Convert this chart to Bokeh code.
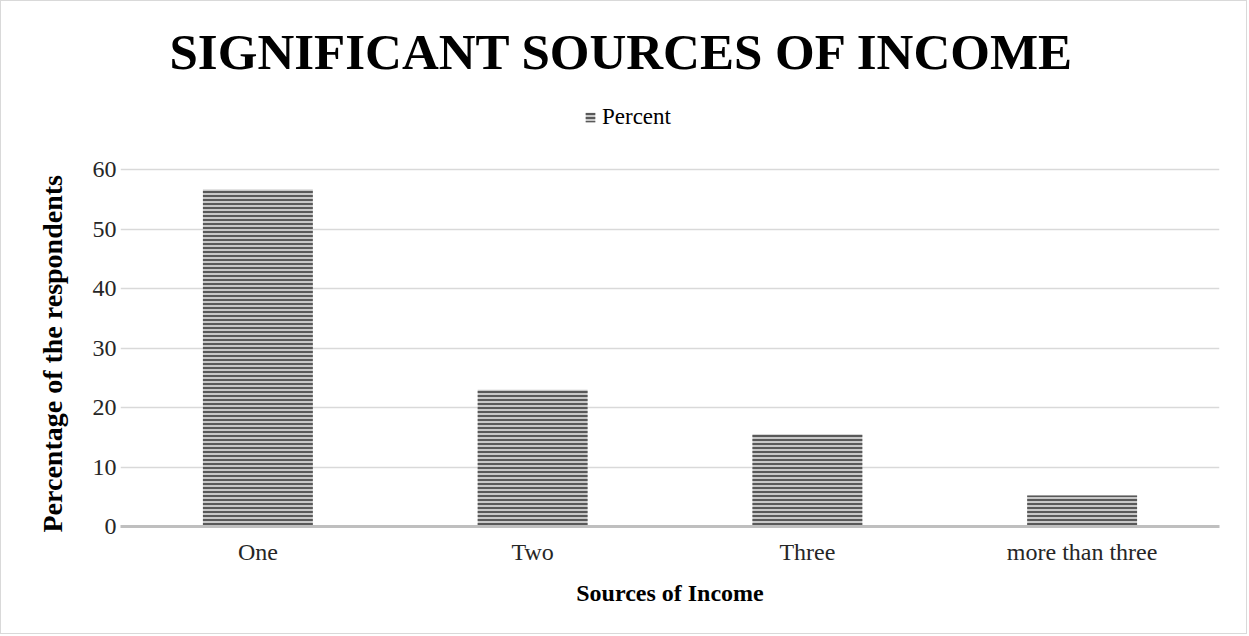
from bokeh.plotting import figure
from bokeh.models import ColumnDataSource, Legend, LegendItem, Title, FixedTicker
from bokeh.embed import file_html
from bokeh.resources import INLINE

categories = ["One", "Two", "Three", "more than three"]
percent = [56.7, 23.0, 15.5, 5.2]
y_ticks = [0, 10, 20, 30, 40, 50, 60]

FONT = "Liberation Serif"

src = ColumnDataSource(dict(cat=categories, val=percent))

p = figure(x_range=categories, y_range=(0, 71.83), width=1247, height=634,
           output_backend="svg", toolbar_location=None,
           min_border_left=119, min_border_right=29, min_border_top=94, min_border_bottom=109)
p.styles = {"border": "1px solid #d9d9d9"}

r = p.vbar(x="cat", top="val", width=0.4, source=src,
           fill_color="#c8c8c8", line_color=None,
           hatch_pattern="horizontal_line", hatch_color="#595959",
           hatch_scale=4, hatch_weight=2)

legend = Legend(items=[LegendItem(label="Percent", renderers=[r])],
                orientation="horizontal", location=(464, 396),
                label_text_font=FONT, label_text_font_size="23px", label_text_color="#000000",
                glyph_width=12, glyph_height=12, label_standoff=6,
                border_line_color=None, background_fill_alpha=0,
                padding=0, margin=0)
p.add_layout(legend, "center")

p.title = Title(text="SIGNIFICANT SOURCES OF INCOME", align="left", offset=49,
                text_font=FONT, text_font_size="51px", text_font_style="bold",
                text_color="#000000", standoff=40)

p.outline_line_color = None
p.xgrid.grid_line_color = None
p.ygrid.grid_line_color = "#d9d9d9"
p.ygrid.grid_line_width = 1.5
p.ygrid.ticker = FixedTicker(ticks=y_ticks)
p.yaxis.ticker = FixedTicker(ticks=y_ticks)
p.yaxis.axis_line_color = None
p.yaxis.major_tick_line_color = None
p.yaxis.minor_tick_line_color = None
p.yaxis.major_tick_out = 0
p.yaxis.major_label_standoff = 4
p.yaxis.major_label_text_font = FONT
p.yaxis.major_label_text_font_size = "24px"
p.yaxis.major_label_text_color = "#262626"

ylab = Title(text="Percentage of the respondents", align="left", offset=-6,
             text_font=FONT, text_font_size="28px", text_font_style="bold",
             text_color="#000000", standoff=44)
p.add_layout(ylab, "left")

p.xaxis.axis_line_color = "#bfbfbf"
p.xaxis.axis_line_width = 3
p.xaxis.major_tick_line_color = None
p.xaxis.minor_tick_line_color = None
p.xaxis.major_tick_out = 0
p.xaxis.major_label_text_font = FONT
p.xaxis.major_label_text_font_size = "24px"
p.xaxis.major_label_text_color = "#262626"
p.xaxis.major_label_standoff = 12
p.xaxis.axis_label = "Sources of Income"
p.xaxis.axis_label_text_font = FONT
p.xaxis.axis_label_text_font_size = "24px"
p.xaxis.axis_label_text_font_style = "bold"
p.xaxis.axis_label_text_color = "#000000"
p.xaxis.axis_label_standoff = 12

open("out.html", "w").write(file_html(p, INLINE))
